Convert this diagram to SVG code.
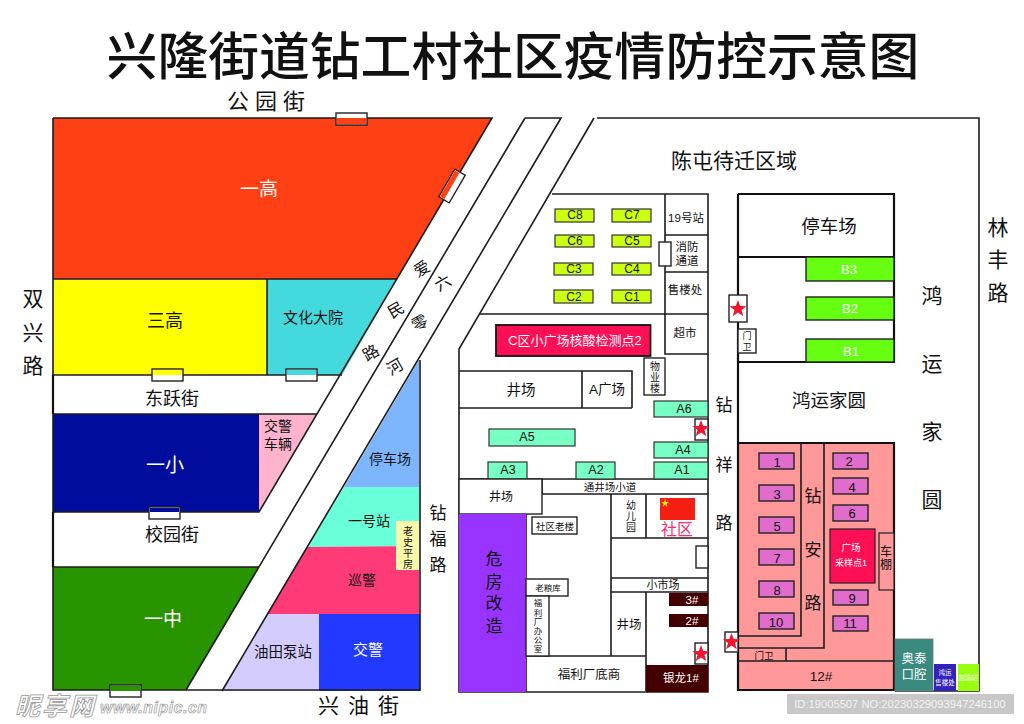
<svg xmlns="http://www.w3.org/2000/svg" width="1024" height="724" viewBox="0 0 1024 724">
<defs>
<polygon id="star" fill="#f3132d" points="0,-9 2.2,-2.9 8.6,-2.8 3.5,1.1 5.3,7.3 0,3.6 -5.3,7.3 -3.5,1.1 -8.6,-2.8 -2.2,-2.9"/>
</defs>
<style>
text{font-family:"Liberation Sans","Noto Sans CJK SC",sans-serif;text-anchor:middle;dominant-baseline:central;fill:#111}
.w{fill:#fff}
.wall{stroke:#1c1c1c;stroke-width:1.6;fill:none}
.thick{stroke:#111;stroke-width:2.2;fill:none}
.box{fill:#fff;stroke:#222;stroke-width:1.4}
.c{fill:#ccff11;stroke:#333;stroke-width:1.2}
.a{fill:#77ffc4;stroke:#333;stroke-width:1.2}
.b{fill:#66ff11;stroke:#222;stroke-width:1.4}
.p{fill:#e06ccc;stroke:#222;stroke-width:1.4}
.d{fill:#440000}
.wm{fill:#fff;text-anchor:start;stroke:#999;font-style:italic;font-weight:700}
</style>
<rect width="1024" height="724" fill="#fff"/>
<g id="title"><text x="513" y="57" font-size="50.8" font-weight="500">兴隆街道钻工村社区疫情防控示意图</text></g>

<g id="yigao"><polygon points="53,118 492,118 397,279 53,279" fill="#ff3f14"/><text class="w" x="259" y="189" font-size="19">一高</text></g>
<g id="sangao"><rect x="53" y="279" width="214" height="96" fill="#ffff00"/><text x="165" y="321" font-size="18">三高</text></g>
<g id="wenhua"><polygon points="267,279 397,279 342,375 267,375" fill="#44d9dd"/><text x="313" y="317" font-size="15">文化大院</text></g>
<g id="yixiao"><rect x="53" y="414" width="206" height="98" fill="#000c9c"/><text class="w" x="165" y="465" font-size="19">一小</text></g>
<g id="jiaojing-cheliang"><polygon points="259,414 317,414 259,512" fill="#ffb3cc"/><text x="278" y="426" font-size="14">交警</text><text x="278" y="444" font-size="14">车辆</text></g>
<g id="yizhong"><polygon points="53,567 259,567 186,690 53,690" fill="#289400"/><text class="w" x="163" y="619" font-size="19">一中</text></g>
<g id="tingchechang-w"><polygon points="419,360 419,487 344,487" fill="#7db5ff"/><text x="390" y="459" font-size="14">停车场</text></g>
<g id="yihaozhan"><polygon points="344,487 419,487 419,546 307,547" fill="#69ffd9"/><text x="369" y="521" font-size="14">一号站</text></g>
<g id="xunjing"><polygon points="307,547 419,546 419,614 267,614" fill="#ff3b77"/><text x="362" y="580" font-size="14">巡警</text></g>
<g id="laoshi"><rect x="396" y="521" width="23" height="49" fill="#f8f8aa"/><text x="408" y="531" font-size="10">老</text><text x="408" y="542" font-size="10">史</text><text x="408" y="553" font-size="10">平</text><text x="408" y="564" font-size="10">房</text></g>
<g id="youtian"><polygon points="267,614 319,614 319,691 222,691" fill="#d4ccff"/><text x="283" y="652" font-size="14.5">油田泵站</text></g>
<g id="jiaojing"><rect x="319" y="614" width="101" height="77" fill="#2239ff"/><text class="w" x="368" y="649" font-size="15">交警</text></g>

<g id="hongyun-pink"><rect x="738" y="443" width="156" height="247" fill="#ff9999"/></g>

<g id="connectors">
<path class="wall" d="M53,118H492L259,512H53M53,118V690H420M53,279H397M53,375H342M53,414H317M53,567H259M267,279V375"/>
<path class="thick" d="M53,375V414M53,512V567"/>
<path class="wall" d="M525,118 186,690M525,118H561L222,691M420,691V360"/>
<path class="wall" d="M594,118 459,349V692H708V194H552M597,118H979V691H895"/>
<path class="wall" d="M480,314H708M665,194V354H708M665,235H708M665,272H708M459,408H632M459,371H582V408M582,371H632V408"/>
<path class="wall" d="M459,479H708M542,479V494H708M526,514V692M526,656H646M611,494V656M646,494V538M611,538H708M611,578H708M611,592H708M646,592V691"/>
<path class="thick" d="M738,194V690H894V443H738M738,194H894V362H738M738,257H894"/>
<path class="wall" d="M801,443V636H738M824,443V648H738M738,661H894M786,648V661"/>
</g>

<g id="gate-1"><rect class="box" x="336" y="113" width="31" height="12"/><rect x="337" y="118" width="29" height="6" fill="#ff3f14"/></g>
<g id="gate-2" transform="rotate(30 452 186)"><rect class="box" x="446" y="170" width="12" height="32"/><rect x="446.800" y="171" width="5" height="30" fill="#ff3f14"/></g>
<g id="gate-3"><rect class="box" x="152" y="369" width="31" height="12"/><rect x="153" y="370" width="29" height="5" fill="#ffff00"/></g>
<g id="gate-4"><rect class="box" x="286" y="369" width="31" height="12"/><rect x="287" y="370" width="29" height="5" fill="#44d9dd"/></g>
<g id="gate-5"><rect class="box" x="149" y="507" width="31" height="12"/><rect x="150" y="508" width="29" height="4" fill="#000c9c"/></g>
<g id="gate-6"><rect class="box" x="110" y="685" width="31" height="12"/><rect x="111" y="686" width="29" height="5" fill="#289400"/></g>

<g id="c8"><rect class="c" x="555" y="209" width="39" height="13"/><text x="575" y="215" font-size="12">C8</text></g>
<g id="c7"><rect class="c" x="612" y="209" width="39" height="13"/><text x="632" y="215" font-size="12">C7</text></g>
<g id="c6"><rect class="c" x="555" y="235" width="39" height="12"/><text x="575" y="241" font-size="12">C6</text></g>
<g id="c5"><rect class="c" x="612" y="235" width="39" height="12"/><text x="632" y="241" font-size="12">C5</text></g>
<g id="c3"><rect class="c" x="554" y="263" width="39" height="12"/><text x="574" y="269" font-size="12">C3</text></g>
<g id="c4"><rect class="c" x="612" y="263" width="39" height="12"/><text x="632" y="269" font-size="12">C4</text></g>
<g id="c2"><rect class="c" x="554" y="290" width="39" height="13"/><text x="574" y="297" font-size="12">C2</text></g>
<g id="c1"><rect class="c" x="612" y="290" width="39" height="13"/><text x="632" y="297" font-size="12">C1</text></g>
<g id="zhan19"><text x="686" y="218" font-size="11.500">19号站</text></g>
<g id="xiaofang"><rect class="box" x="659" y="242" width="12" height="24"/><text x="687" y="247" font-size="11.500">消防</text><text x="687" y="261" font-size="11.500">通道</text></g>
<g id="shoulou"><text x="685" y="290" font-size="11.500">售楼处</text></g>
<g id="chaoshi"><text x="685" y="333" font-size="11.500">超市</text></g>
<g id="heshuan2"><rect x="496" y="325" width="154.500" height="31" fill="#ff0f55" stroke="#111" stroke-width="1.800"/><text class="w" x="575" y="340" font-size="13">C区小广场核酸检测点2</text></g>
<g id="wuye"><rect class="box" x="644" y="358" width="21" height="37"/><text x="655" y="366" font-size="10">物</text><text x="655" y="377" font-size="10">业</text><text x="655" y="388" font-size="10">楼</text></g>
<g id="jing1"><text x="521" y="390" font-size="14.500">井场</text></g>
<g id="aguang"><text x="607" y="389" font-size="13.500">A广场</text></g>
<g id="a6"><rect class="a" x="654" y="401" width="54" height="16"/><text x="684" y="409" font-size="12.500">A6</text></g>
<g id="a5"><rect class="a" x="489" y="429" width="86" height="17"/><text x="527" y="437" font-size="12.500">A5</text></g>
<g id="a4"><rect class="a" x="654" y="442" width="54" height="16"/><text x="683" y="450" font-size="12.500">A4</text></g>
<g id="a3"><rect class="a" x="488" y="462" width="39" height="17"/><text x="508" y="470" font-size="12.500">A3</text></g>
<g id="a2"><rect class="a" x="576" y="462" width="39" height="17"/><text x="596" y="470" font-size="12.500">A2</text></g>
<g id="a1"><rect class="a" x="654" y="462" width="54" height="17"/><text x="682" y="470" font-size="12.500">A1</text></g>
<g id="jing2"><rect class="box" x="459" y="479" width="83" height="35"/><text x="501" y="497" font-size="12">井场</text></g>
<g id="tongjing"><text x="610" y="487" font-size="10.500">通井场小道</text></g>
<g id="weifang"><rect x="459" y="514" width="67" height="178" fill="#9933ff"/><text x="494" y="559" font-size="17">危</text><text x="494" y="582" font-size="17">房</text><text x="494" y="603" font-size="17">改</text><text x="494" y="626" font-size="17">造</text></g>
<g id="laolou"><rect class="box" x="532" y="517" width="45" height="17"/><text x="555" y="526" font-size="9.500">社区老楼</text></g>
<g id="youer"><text x="631" y="505" font-size="10">幼</text><text x="631" y="516" font-size="10">儿</text><text x="631" y="527" font-size="10">园</text></g>
<g id="shequ"><rect x="660" y="498" width="35" height="22" fill="#f41e12"/><polygon points="665,499 666,502 669,502 666.500,504 667.500,507 665,505 662.500,507 663.500,504 661,502 664,502" fill="#ffde00"/><text x="677" y="529" font-size="16" style="fill:#ff2a72">社区</text></g>
<g id="door-e"><rect class="box" x="696" y="546" width="12" height="22"/></g>
<g id="xiaoshichang"><text x="663" y="585" font-size="11">小市场</text></g>
<g id="laoliang"><rect class="box" x="526" y="579" width="42" height="17"/><text x="548" y="588" font-size="8.500">老粮库</text></g>
<g id="fuli-office"><rect class="box" x="526" y="596" width="23" height="60"/><text x="538" y="603" font-size="8.500">福</text><text x="538" y="613" font-size="8.500">利</text><text x="538" y="622" font-size="8.500">厂</text><text x="538" y="631" font-size="8.500">办</text><text x="538" y="640" font-size="8.500">公</text><text x="538" y="649" font-size="8.500">室</text></g>
<g id="jing3"><text x="629" y="625" font-size="12.500">井场</text></g>
<g id="f3"><rect class="d" x="669" y="593" width="39" height="13"/><text class="w" x="692" y="600" font-size="11.500">3#</text></g>
<g id="f2"><rect class="d" x="669" y="614" width="39" height="13"/><text class="w" x="692" y="621" font-size="11.500">2#</text></g>
<g id="yinlong"><rect class="d" x="646" y="665" width="62" height="27"/><text class="w" x="681" y="678" font-size="11.500">银龙1#</text></g>
<g id="fuli-shang"><text x="589" y="675" font-size="12.500">福利厂底商</text></g>

<g id="star-1"><rect class="box" x="729" y="295" width="18" height="27"/><use href="#star" x="738" y="309"/></g>
<g id="star-2"><rect class="box" x="695" y="419" width="13" height="21"/><use href="#star" x="701" y="429"/></g>
<g id="star-3"><rect class="box" x="695" y="643" width="13" height="21"/><use href="#star" x="701" y="654"/></g>
<g id="star-4"><rect class="box" x="725" y="632" width="13" height="20"/><use href="#star" x="731.500" y="642"/></g>

<g id="mw-1"><rect class="box" x="738" y="329" width="18" height="24"/><text x="747" y="336" font-size="9">门</text><text x="747" y="347" font-size="9">卫</text></g>
<g id="tingche-e"><text x="829" y="226" font-size="18.500">停车场</text></g>
<g id="b3"><rect class="b" x="806" y="257" width="88" height="24"/><text class="w" x="849" y="269" font-size="13">B3</text></g>
<g id="b2"><rect class="b" x="806" y="297" width="88" height="23"/><text class="w" x="850" y="308" font-size="13">B2</text></g>
<g id="b1"><rect class="b" x="806" y="339" width="88" height="23"/><text class="w" x="851" y="351" font-size="13">B1</text></g>
<g id="hongyun-title"><text x="829" y="400" font-size="18.500">鸿运家圆</text></g>

<g id="p1"><rect class="p" x="759" y="453" width="35" height="16"/><text x="777" y="462" font-size="13">1</text></g>
<g id="p3"><rect class="p" x="759" y="485" width="35" height="16"/><text x="777" y="494" font-size="13">3</text></g>
<g id="p5"><rect class="p" x="759" y="517" width="35" height="16"/><text x="777" y="526" font-size="13">5</text></g>
<g id="p7"><rect class="p" x="759" y="549" width="35" height="16"/><text x="777" y="558" font-size="13">7</text></g>
<g id="p8"><rect class="p" x="759" y="581" width="35" height="16"/><text x="777" y="590" font-size="13">8</text></g>
<g id="p10"><rect class="p" x="759" y="613" width="35" height="16"/><text x="776" y="622" font-size="13">10</text></g>
<g id="p2"><rect class="p" x="833" y="453" width="35" height="16"/><text x="849" y="461" font-size="13">2</text></g>
<g id="p4"><rect class="p" x="833" y="478" width="35" height="16"/><text x="852" y="487" font-size="13">4</text></g>
<g id="p6"><rect class="p" x="833" y="505" width="35" height="16"/><text x="852" y="513" font-size="13">6</text></g>
<g id="p9"><rect class="p" x="833" y="590" width="35" height="15"/><text x="852" y="598" font-size="13">9</text></g>
<g id="p11"><rect class="p" x="833" y="616" width="35" height="15"/><text x="850" y="623" font-size="13">11</text></g>
<g id="guangchang"><rect x="830" y="529" width="45" height="54" fill="#ff0f55" stroke="#222" stroke-width="1.200"/><text class="w" x="851" y="547" font-size="9.500">广场</text><text class="w" x="851" y="563" font-size="9">采样点1</text></g>
<g id="chepeng"><rect x="879" y="533" width="15" height="57" fill="#ff9999" stroke="#222" stroke-width="1.200"/><text x="886" y="552" font-size="12">车</text><text x="886" y="565" font-size="12">棚</text></g>
<g id="mw-2"><text x="764" y="655" font-size="9.500">门卫</text></g>
<g id="f12"><text x="821" y="676" font-size="13.500">12#</text></g>
<g id="aotai"><rect x="895" y="639" width="38" height="52" fill="#3a8a80" stroke="#777" stroke-width="0.800"/><text class="w" x="914" y="659" font-size="12.500">奥泰</text><text class="w" x="914" y="675" font-size="12.500">口腔</text></g>
<g id="shoulou2"><rect x="934" y="664" width="22" height="27" fill="#3322bb"/><text class="w" x="945" y="672" font-size="6.500">鸿运</text><text class="w" x="945" y="682" font-size="6.500">售楼处</text></g>
<g id="jiayou"><rect x="958" y="664" width="21" height="27" fill="#99ff11"/><text class="w" x="968" y="677" font-size="6.500">加油站</text></g>

<g id="labels">
<text x="269" y="101" font-size="22" letter-spacing="6">公园街</text>
<text x="33" y="298" font-size="21">双</text><text x="33" y="332" font-size="21">兴</text><text x="33" y="365" font-size="21">路</text>
<text x="172" y="399" font-size="18">东跃街</text>
<text x="172" y="535" font-size="18">校园街</text>
<text x="363" y="705" font-size="21" letter-spacing="9">兴油街</text>
<text x="438" y="513" font-size="17">钻</text><text x="438" y="539" font-size="17">福</text><text x="438" y="565" font-size="17">路</text>
<text x="734" y="160" font-size="21">陈屯待迁区域</text>
<text x="998" y="227" font-size="21">林</text><text x="998" y="259" font-size="21">丰</text><text x="998" y="292" font-size="21">路</text>
<text x="932" y="295" font-size="21">鸿</text><text x="932" y="363" font-size="21">运</text><text x="932" y="431" font-size="21">家</text><text x="932" y="499" font-size="21">圆</text>
<text x="724" y="405" font-size="17">钻</text><text x="724" y="465" font-size="17">祥</text><text x="724" y="523" font-size="17">路</text>
<text x="813" y="496" font-size="17">钻</text><text x="813" y="550" font-size="17">安</text><text x="813" y="603" font-size="17">路</text>
<text transform="translate(422 269) rotate(-30)" font-size="16">爱</text>
<text transform="translate(396 310) rotate(-30)" font-size="16">民</text>
<text transform="translate(371 353) rotate(-30)" font-size="16">路</text>
<text transform="translate(443 283) rotate(-30)" font-size="16">六</text>
<text transform="translate(420 323) rotate(-30)" font-size="16">零</text>
<text transform="translate(395 367) rotate(-30)" font-size="16">河</text>
</g>

<g id="watermark">
<text class="wm" x="15" y="706" font-size="25" letter-spacing="2" stroke-width="0.800">昵享网</text>
<text class="wm" x="100" y="707" font-size="16" letter-spacing="0.500" stroke-width="0.700">www.nipic.cn</text>
<rect x="787" y="694" width="227" height="20" fill="#c8c8c8"/>
<text x="900" y="704" font-size="11.200" style="fill:#f2f2f2">ID:19005507 NO:20230329093947246100</text>
</g>
</svg>
